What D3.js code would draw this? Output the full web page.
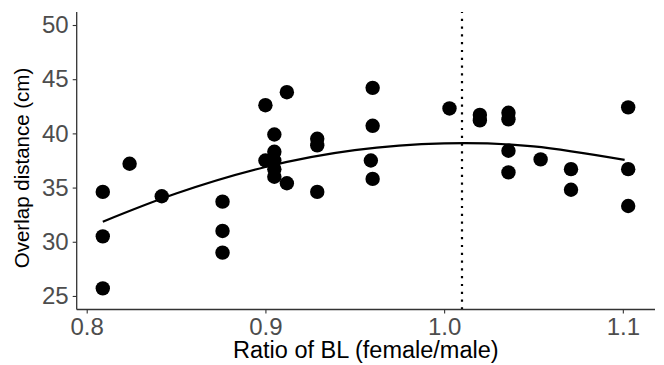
<!DOCTYPE html>
<html>
<head>
<meta charset="utf-8">
<script src="https://cdn.jsdelivr.net/npm/d3@7"></script>
<style>
  html, body { margin: 0; padding: 0; background: #fff; }
  svg { display: block; font-family: Arial, "Liberation Sans", sans-serif; }
</style>
</head>
<body>
<svg id="chart" width="664" height="365"></svg>
<script>
// Data
const ratioBL = [0.809, 0.809, 0.809, 0.824, 0.842, 0.876, 0.876, 0.876,
  0.900, 0.900, 0.905, 0.905, 0.905, 0.905, 0.905, 0.912, 0.912,
  0.929, 0.929, 0.929, 0.959, 0.960, 0.960, 0.960, 1.003, 1.020, 1.020,
  1.036, 1.036, 1.036, 1.036, 1.054, 1.071, 1.071, 1.103, 1.103, 1.103];
const overlapCm = [34.6, 30.5, 25.7, 37.2, 34.2, 33.7, 31.0, 29.0,
  42.6, 37.5, 39.9, 38.3, 37.5, 36.7, 36.0, 43.8, 35.4,
  39.5, 38.9, 34.6, 37.5, 44.2, 40.7, 35.8, 42.3, 41.7, 41.2,
  41.9, 41.3, 38.4, 36.4, 37.6, 36.7, 34.8, 42.4, 36.7, 33.3];
// fitted curve
const fitX = [0.809, 0.85, 0.90, 0.95, 1.00, 1.05, 1.101];
const fitY = [31.85, 34.45, 36.9, 38.45, 39.08, 38.8, 37.55];
const xTicks = [0.8, 0.9, 1.0, 1.1];
const yTicks = [25, 30, 35, 40, 45, 50];
const refLineX = 1.01;
const xTitle = "Ratio of BL (female/male)";
const yTitle = "Overlap distance (cm)";

(function () {
const svg = d3.select("#chart");
const pL = 76.7, pR = 655, pT = 12, pB = 309.5;

const x = d3.scaleLinear().domain([0.7944, 1.118]).range([pL, pR]);
const y = d3.scaleLinear().domain([23.75, 51.2]).range([pB, pT]);

// reference dotted line
svg.append("line")
  .attr("x1", x(refLineX)).attr("x2", x(refLineX))
  .attr("y1", pB).attr("y2", pT)
  .attr("stroke", "#000").attr("stroke-width", 2.2)
  .attr("stroke-dasharray", "2.2,5.6");

// points
svg.append("g").selectAll("circle")
  .data(ratioBL.map((d, i) => [d, overlapCm[i]]))
  .join("circle")
  .attr("cx", d => x(d[0])).attr("cy", d => y(d[1]))
  .attr("r", 7.2).attr("fill", "#000");

// fitted curve
svg.append("path")
  .datum(fitX.map((d, i) => [d, fitY[i]]))
  .attr("d", d3.line().x(d => x(d[0])).y(d => y(d[1])).curve(d3.curveNatural))
  .attr("fill", "none").attr("stroke", "#000").attr("stroke-width", 2.2);

// axes
const xAxis = svg.append("g").attr("transform", `translate(0,${pB})`)
  .call(d3.axisBottom(x).tickValues(xTicks).tickFormat(d3.format(".1f")).tickSize(4).tickPadding(4));
const yAxis = svg.append("g").attr("transform", `translate(${pL},0)`)
  .call(d3.axisLeft(y).tickValues(yTicks).tickFormat(d3.format("d")).tickSize(4).tickPadding(4));
[xAxis, yAxis].forEach(g => {
  g.select(".domain").attr("stroke", "#333").attr("stroke-width", 1.3);
  g.selectAll(".tick line").attr("stroke", "#333").attr("stroke-width", 1.1);
  g.selectAll(".tick text").attr("fill", "#4d4d4d")
    .style("font-size", "24px").style("font-family", "Arial, 'Liberation Sans', sans-serif");
});
xAxis.select(".domain").attr("d", `M${pL},0H${pR}`);
yAxis.select(".domain").attr("d", `M0,${pT}V${pB}`);

// titles
svg.append("text")
  .attr("x", (pL + pR) / 2).attr("y", 358)
  .attr("text-anchor", "middle").attr("fill", "#000")
  .style("font-size", "23.5px").text(xTitle);
svg.append("text")
  .attr("transform", `translate(29,168) rotate(-90)`)
  .attr("text-anchor", "middle").attr("fill", "#000")
  .style("font-size", "20.5px").text(yTitle);
})();
</script>
</body>
</html>
